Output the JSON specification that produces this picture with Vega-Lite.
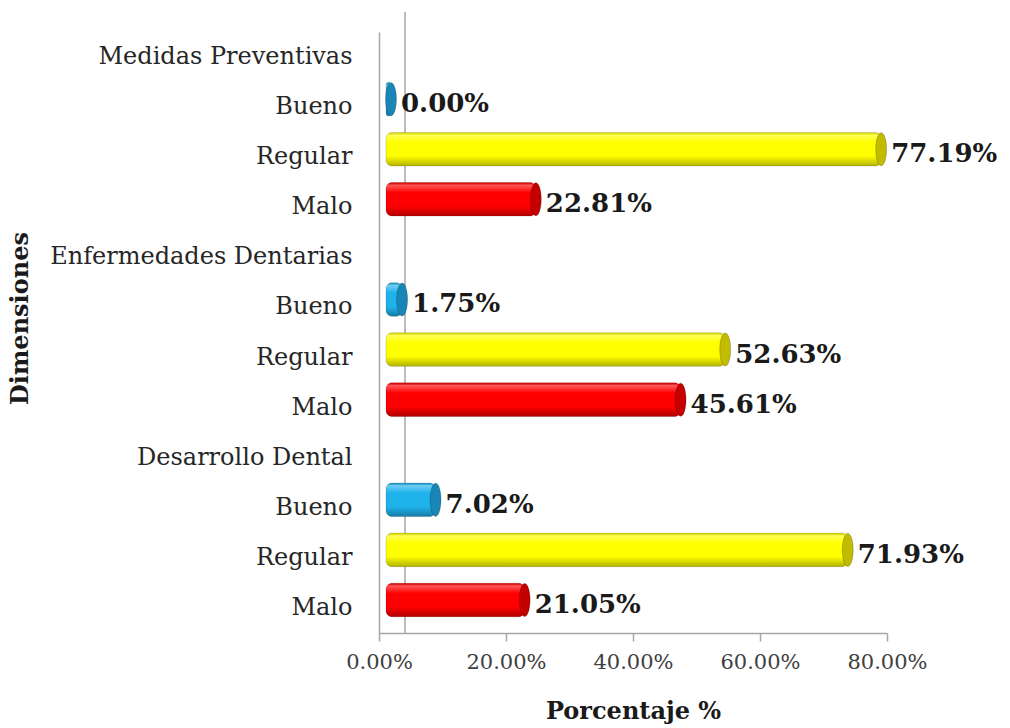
{
  "$schema": "https://vega.github.io/schema/vega-lite/v6.json",
  "width": 508,
  "height": 601,
  "autosize": "none",
  "padding": {"left": 379, "top": 32, "right": 123, "bottom": 95},
  "background": "white",
  "config": {
    "view": {"stroke": null},
    "font": "DejaVu Serif",
    "axisX": {
      "title": "Porcentaje %",
      "titleFont": "DejaVu Serif",
      "titleFontWeight": "bold",
      "titleFontSize": 24,
      "titleColor": "#1a1a1a",
      "titlePadding": 27,
      "grid": false,
      "labelFont": "DejaVu Serif",
      "labelFontSize": 21,
      "labelColor": "#404040",
      "labelPadding": 10,
      "labelFlush": false,
      "labelOverlap": false,
      "tickSize": 8,
      "tickColor": "#A6A6A6",
      "tickWidth": 1.5,
      "domainColor": "#A6A6A6",
      "domainWidth": 1.5
    }
  },
  "datasets": {
    "resultados": [
      {"dimension": "Medidas Preventivas", "nivel": "Bueno", "fila": "Bueno|MP", "valor": 0.0},
      {"dimension": "Medidas Preventivas", "nivel": "Regular", "fila": "Regular|MP", "valor": 0.7719},
      {"dimension": "Medidas Preventivas", "nivel": "Malo", "fila": "Malo|MP", "valor": 0.2281},
      {"dimension": "Enfermedades Dentarias", "nivel": "Bueno", "fila": "Bueno|ED", "valor": 0.0175},
      {"dimension": "Enfermedades Dentarias", "nivel": "Regular", "fila": "Regular|ED", "valor": 0.5263},
      {"dimension": "Enfermedades Dentarias", "nivel": "Malo", "fila": "Malo|ED", "valor": 0.4561},
      {"dimension": "Desarrollo Dental", "nivel": "Bueno", "fila": "Bueno|DD", "valor": 0.0702},
      {"dimension": "Desarrollo Dental", "nivel": "Regular", "fila": "Regular|DD", "valor": 0.7193},
      {"dimension": "Desarrollo Dental", "nivel": "Malo", "fila": "Malo|DD", "valor": 0.2105}
    ],
    "pared": [{"valor": 0.041}]
  },
  "data": {"name": "resultados"},
  "layer": [
    {
      "data": {"name": "pared"},
      "mark": {"type": "rule", "color": "#A6A6A6", "strokeWidth": 1.5, "yOffset": -20, "y2Offset": -18},
      "encoding": {
        "x": {
          "field": "valor",
          "type": "quantitative",
          "scale": {"domain": [0, 0.8], "nice": false},
          "axis": {"title": "Porcentaje %", "values": [0, 0.2, 0.4, 0.6, 0.8], "format": ".2%"}
        }
      }
    },
    {
      "mark": {"type": "bar", "cornerRadius": 6, "xOffset": 12, "x2Offset": 7, "yOffset": -8},
      "encoding": {
        "y": {
          "field": "fila",
          "type": "nominal",
          "sort": null,
          "scale": {
            "domain": [
              "Medidas Preventivas", "Bueno|MP", "Regular|MP", "Malo|MP",
              "Enfermedades Dentarias", "Bueno|ED", "Regular|ED", "Malo|ED",
              "Desarrollo Dental", "Bueno|DD", "Regular|DD", "Malo|DD"
            ],
            "paddingInner": 0.33,
            "paddingOuter": 0.165
          },
          "axis": {
            "title": "Dimensiones",
            "titleFont": "DejaVu Serif",
            "titleFontWeight": "bold",
            "titleFontSize": 24,
            "titleColor": "#1a1a1a",
            "titleX": -347,
            "titleY": 286,
            "labelExpr": "split(datum.label, '|')[0]",
            "labelFont": "DejaVu Serif",
            "labelFontSize": 24,
            "labelColor": "#262626",
            "labelPadding": 27,
            "labelLimit": 400,
            "ticks": false,
            "domainColor": "#A6A6A6",
            "domainWidth": 1.5
          }
        },
        "x": {
          "field": "valor",
          "type": "quantitative",
          "stack": null,
          "axis": {"title": "Porcentaje %", "values": [0, 0.2, 0.4, 0.6, 0.8], "format": ".2%"}
        },
        "x2": {"datum": 0},
        "color": {
          "field": "nivel",
          "type": "nominal",
          "scale": {"domain": ["Bueno", "Regular", "Malo"], "range": ["#1FB3EC", "#FFFF00", "#FF0000"]},
          "legend": null
        }
      }
    },
    {
      "mark": {
        "type": "bar",
        "cornerRadius": 6,
        "xOffset": 12,
        "x2Offset": 7,
        "yOffset": -8,
        "stroke": "#000000",
        "strokeOpacity": 0.18,
        "strokeWidth": 0.8,
        "fill": {
          "gradient": "linear",
          "x1": 0, "y1": 0, "x2": 0, "y2": 1,
          "stops": [
            {"offset": 0, "color": "rgba(0,0,0,0.12)"},
            {"offset": 0.08, "color": "rgba(255,255,255,0.35)"},
            {"offset": 0.3, "color": "rgba(255,255,255,0)"},
            {"offset": 0.7, "color": "rgba(0,0,0,0)"},
            {"offset": 1, "color": "rgba(0,0,0,0.3)"}
          ]
        }
      },
      "encoding": {
        "y": {"field": "fila", "type": "nominal", "sort": null},
        "x": {"field": "valor", "type": "quantitative", "stack": null},
        "x2": {"datum": 0}
      }
    },
    {
      "mark": {
        "type": "point",
        "shape": "M0,-1 A0.33,1 0 1,1 0,1 A0.33,1 0 1,1 0,-1 Z",
        "size": 1089,
        "filled": true,
        "opacity": 1,
        "xOffset": 12,
        "yOffset": -8,
        "stroke": "#000000",
        "strokeOpacity": 0.25,
        "strokeWidth": 0.8
      },
      "encoding": {
        "y": {"field": "fila", "type": "nominal", "sort": null},
        "x": {"field": "valor", "type": "quantitative"},
        "fill": {
          "field": "nivel",
          "type": "nominal",
          "scale": {"domain": ["Bueno", "Regular", "Malo"], "range": ["#1A86B8", "#C2BC00", "#C40000"]},
          "legend": null
        }
      }
    },
    {
      "mark": {
        "type": "text",
        "align": "left",
        "baseline": "middle",
        "font": "DejaVu Serif",
        "fontWeight": "bold",
        "fontSize": 26,
        "color": "#1a1a1a",
        "xOffset": 22,
        "yOffset": -3
      },
      "encoding": {
        "y": {"field": "fila", "type": "nominal", "sort": null},
        "x": {"field": "valor", "type": "quantitative"},
        "text": {"field": "valor", "type": "quantitative", "format": ".2%"}
      }
    }
  ]
}
